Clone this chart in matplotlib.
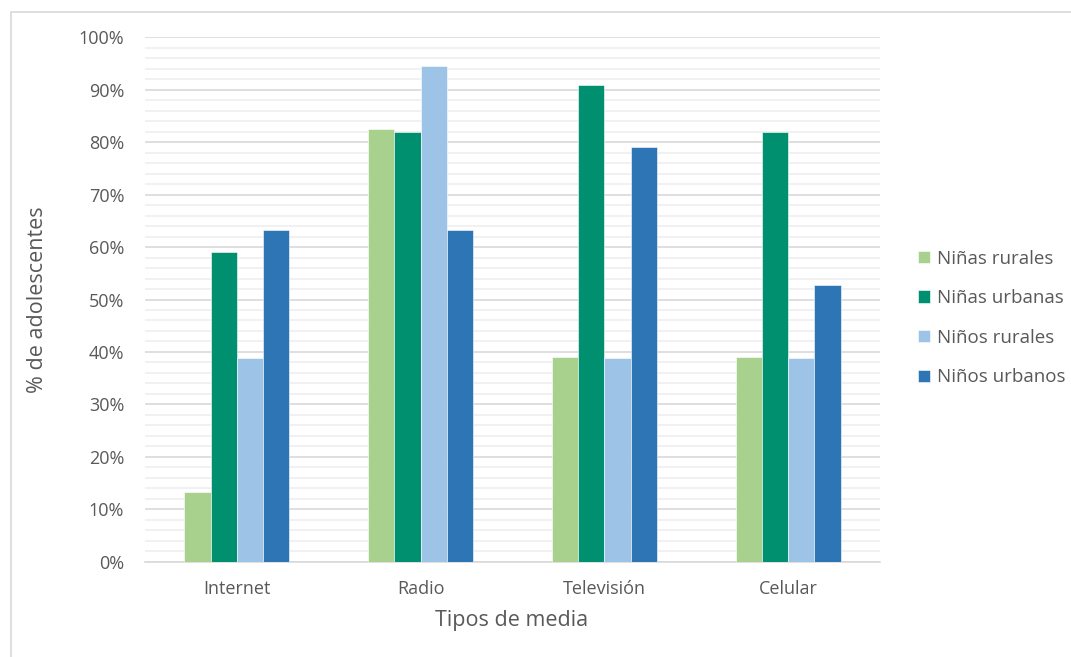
import numpy as np
import matplotlib
matplotlib.use('Agg')
import matplotlib.pyplot as plt
from matplotlib.patches import Rectangle
from matplotlib.ticker import MultipleLocator, PercentFormatter

plt.rcParams['font.family'] = ['Open Sans', 'DejaVu Sans']

categories = ['Internet', 'Radio', 'Televisión', 'Celular']
series = ['Niñas rurales', 'Niñas urbanas', 'Niños rurales', 'Niños urbanos']
ninas_rurales = [13.2, 82.6, 39.1, 39.1]
ninas_urbanas = [59.0, 82.0, 90.9, 82.0]
ninos_rurales = [38.9, 94.5, 38.9, 38.9]
ninos_urbanos = [63.2, 63.2, 79.1, 52.7]
colors = ['#a9d18e', '#00906f', '#9dc3e6', '#2e75b6']

txt = '#595959'
W, H = 1071, 657
fig = plt.figure(figsize=(W / 100, H / 100), dpi=100)
ax = fig.add_axes([145 / W, (H - 561.7) / H, 735 / W, 524.4 / H])

x = np.arange(len(categories))
w = 1 / 7
values = [ninas_rurales, ninas_urbanas, ninos_rurales, ninos_urbanos]
for i, (vals, name, c) in enumerate(zip(values, series, colors)):
    ax.bar(x + (i - 1.5) * w, vals, w, color=c, label=name,
           edgecolor='white', linewidth=0.4, zorder=3)

ax.set_xlim(-0.5, len(categories) - 0.5)
ax.set_ylim(0, 100)
ax.yaxis.set_major_locator(MultipleLocator(10))
ax.yaxis.set_minor_locator(MultipleLocator(2))
ax.yaxis.set_major_formatter(PercentFormatter(decimals=0))
ax.grid(axis='y', which='major', color='#d9d9d9', lw=1.2, zorder=1)
ax.grid(axis='y', which='minor', color='#f0f0f0', lw=1.3, zorder=0)
ax.set_xticks(x)
ax.set_xticklabels(categories)
ax.tick_params(axis='both', which='both', length=0, colors=txt, labelsize=13)
ax.tick_params(axis='y', pad=15)
ax.tick_params(axis='x', pad=13)
for s in ['top', 'right', 'left']:
    ax.spines[s].set_visible(False)
ax.spines['bottom'].set_color('#d9d9d9')
ax.spines['bottom'].set_linewidth(1.2)

ax.set_ylabel('% de adolescentes', fontsize=15.5, color=txt)
ax.set_xlabel('Tipos de media', fontsize=15.5, color=txt)
ax.yaxis.set_label_coords((48 - 145) / 735, 0.5)
ax.xaxis.set_label_coords(0.4993, (561.7 - 610) / 524.4)

leg = ax.legend(loc='center left', bbox_to_anchor=(918 / W, 339 / H),
                bbox_transform=fig.transFigure, frameon=False, fontsize=13.5,
                handlelength=0.65, handleheight=0.65, handletextpad=0.35,
                labelspacing=1.15, borderpad=0, borderaxespad=0)
for t in leg.get_texts():
    t.set_color(txt)

# chart frame
fig.patches.append(Rectangle((11 / W, -0.05), 1.2, (H - 12) / H + 0.05,
                             transform=fig.transFigure, fill=False,
                             edgecolor='#d9d9d9', lw=1.2))

fig.savefig('out.png', dpi=100)
